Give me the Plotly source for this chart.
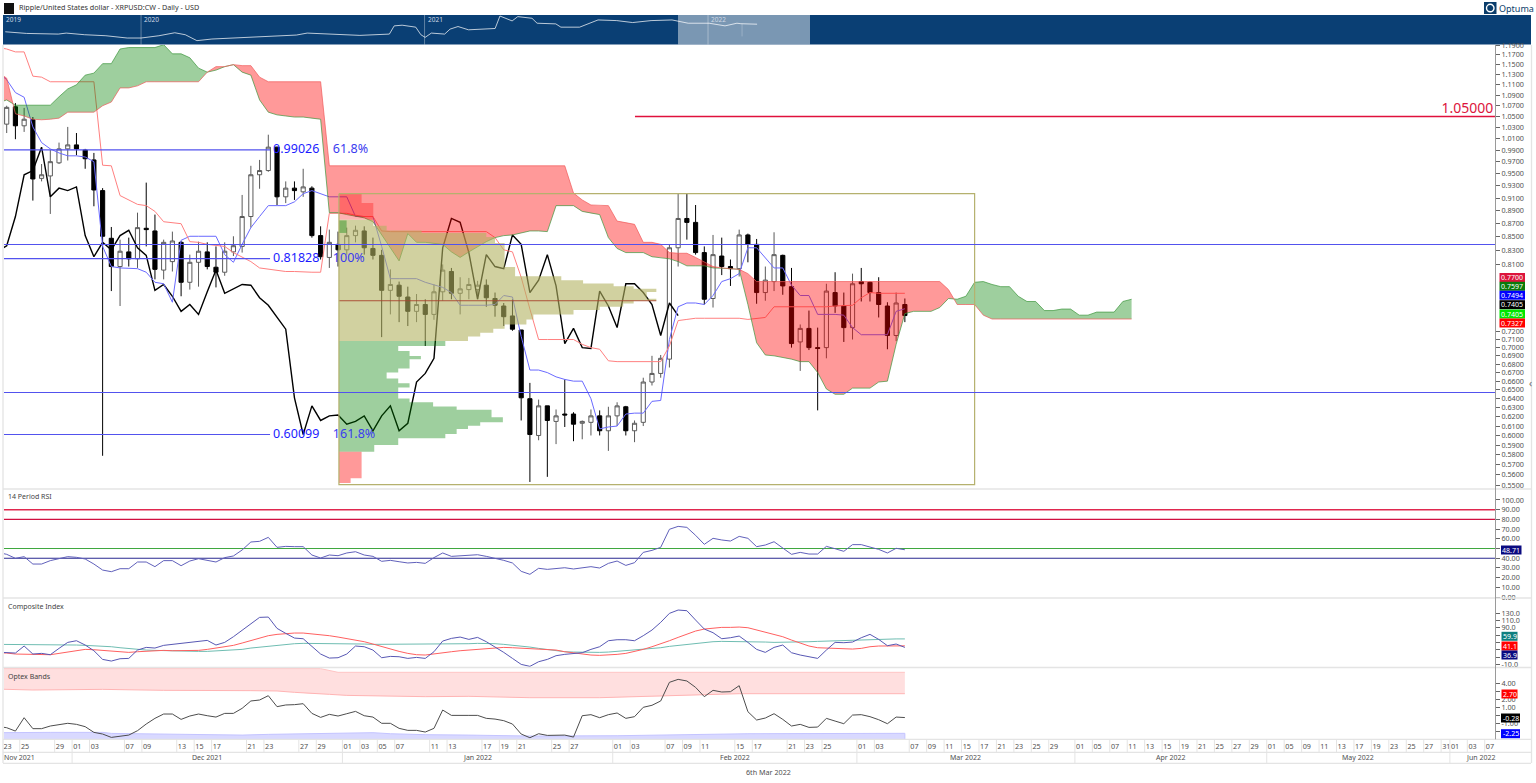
import math
import plotly.graph_objects as go

W, H = 1536, 783

# ---------- price data (daily bars, 23 Nov 2021 .. 6 Mar 2022) ----------
opens = [1.036,1.068,1.033,1.044,.942,.946,.968,.992,.999,.990,
         .973,.922,.848,.807,.828,.818,.863,.859,.802,.814,
         .842,.785,.813,.828,.806,.799,.828,.836,.881,.948,
         .955,.995,.912,.926,.920,.926,.852,.820,.839,.831,
         .852,.859,.833,.823,.774,.781,.765,.746,.755,.742,
         .772,.800,.770,.775,.775,.781,.763,.753,.740,.722,
         .640,.600,.632,.615,.623,.623,.613,.614,.621,.605,
         .621,.631,.605,.614,.659,.669,.686,.834,.878,.872,
         .827,.763,.822,.807,.804,.853,.839,.771,.786,.823,
         .779,.707,.724,.700,.700,.771,.753,.725,.786,.785,
         .771,.753,.715,.755]
highs = [1.070,1.075,1.066,1.049,.966,.990,1.003,1.031,1.020,.992,
         .985,.926,.865,.846,.849,.887,.935,.884,.846,.858,
         .844,.824,.843,.842,.836,.842,.851,.915,.963,.973,
         1.017,.996,.937,.937,.958,.929,.866,.861,.858,.864,
         .867,.866,.849,.831,.803,.786,.779,.769,.762,.782,
         .810,.805,.792,.791,.787,.789,.771,.757,.762,.722,
         .658,.639,.632,.628,.662,.625,.616,.628,.627,.631,
         .636,.632,.616,.664,.690,.691,.839,.918,.918,.899,
         .836,.853,.849,.817,.861,.855,.847,.807,.857,.824,
         .805,.729,.747,.725,.783,.799,.771,.797,.805,.786,
         .792,.758,.771,.763]
lows = [1.020,1.009,1.022,.906,.937,.885,.966,.972,.981,.958,
        .897,.579,.773,.753,.807,.805,.836,.789,.789,.800,
        .766,.775,.779,.803,.778,.794,.822,.827,.864,.925,
        .953,.899,.902,.907,.912,.849,.817,.805,.807,.824,
        .842,.824,.817,.713,.742,.732,.727,.732,.702,.735,
        .760,.762,.742,.762,.762,.752,.739,.727,.721,.616,
        .553,.595,.558,.591,.609,.594,.596,.600,.600,.584,
        .610,.600,.593,.610,.655,.664,.676,.807,.846,.824,
        .755,.751,.795,.780,.793,.813,.756,.760,.773,.768,
        .700,.672,.697,.627,.687,.744,.707,.710,.759,.759,
        .738,.698,.708,.732]
closes = [1.067,1.033,1.045,.941,.948,.970,.992,.999,.992,.975,
          .923,.851,.807,.829,.818,.864,.861,.803,.842,.844,
          .785,.813,.829,.807,.799,.829,.837,.881,.948,.955,
          .995,.912,.926,.922,.928,.852,.821,.842,.831,.852,
          .860,.834,.823,.774,.782,.766,.746,.755,.742,.772,
          .802,.770,.776,.782,.781,.764,.754,.739,.723,.641,
          .601,.632,.616,.621,.622,.612,.615,.621,.605,.621,
          .632,.605,.613,.659,.669,.687,.834,.878,.872,.827,
          .762,.824,.807,.804,.853,.839,.771,.788,.824,.780,
          .705,.724,.700,.699,.773,.753,.725,.783,.783,.771,
          .755,.715,.757,.7405]

# each indicator starts one bar left of the first candle (just off the chart's edge)
tenkan = [1.135,
          1.120,1.095,1.086,1.031,1.003,.992,.985,.980,.980,.978,
          .970,.836,.807,.805,.805,.804,.799,.785,.783,.758,
          .845,.851,.851,.851,.851,.824,.813,.839,.864,.881,
          .898,.898,.898,.904,.917,.922,.917,.912,.912,.912,
          .881,.881,.881,.836,.790,.790,.790,.790,.785,.781,
          .778,.771,.754,.754,.754,.754,.755,.767,.765,.714,
          .673,.673,.670,.665,.662,.660,.660,.640,.607,.609,
          .610,.623,.624,.624,.637,.638,.710,.752,.757,.757,
          .755,.767,.786,.790,.797,.834,.834,.820,.805,.805,
          .781,.767,.767,.742,.742,.742,.741,.725,.716,.716,
          .716,.716,.746,.7494]
kijun = [1.185,
         1.182,1.176,1.176,1.127,1.125,1.116,1.116,1.116,1.116,1.116,
         1.116,.964,.963,.914,.907,.900,.898,.889,.873,.872,
         .870,.843,.842,.839,.837,.836,.827,.821,.814,.805,
         .803,.801,.800,.800,.799,.799,.799,.886,.886,.886,
         .883,.881,.881,.859,.858,.858,.858,.858,.858,.858,
         .858,.858,.858,.858,.858,.858,.849,.831,.828,.792,
         .749,.710,.710,.710,.710,.710,.704,.700,.698,.684,
         .683,.683,.683,.683,.683,.683,.702,.734,.7355,.737,
         .737,.737,.737,.737,.737,.7355,.737,.738,.752,.752,
         .752,.752,.752,.752,.752,.753,.753,.754,.764,.771,
         .770,.770,.770,.770]
span_a = [1.075,
          1.081,1.071,1.071,1.071,1.071,1.071,1.087,1.102,1.110,1.129,
          1.133,1.152,1.152,1.182,1.185,1.185,1.185,1.185,1.191,1.172,
          1.172,1.164,1.143,1.135,1.139,1.146,1.150,1.135,1.129,1.081,
          1.058,1.053,1.051,1.049,1.049,1.047,1.045,.887,.887,.884,
          .881,.879,.873,.853,.834,.815,.855,.842,.842,.840,
          .839,.828,.820,.828,.836,.843,.849,.852,.853,.856,
          .859,.859,.858,.898,.898,.898,.889,.886,.884,.849,
          .833,.827,.827,.827,.821,.820,.818,.814,.808,.808,
          .808,.805,.805,.804,.803,.755,.706,.691,.690,.688,
          .686,.683,.683,.670,.651,.645,.645,.652,.652,.652,
          .659,.660,.704,.743,.746,.746,.746,.751,.763,.762,
          .766,.785,.786,.782,.779,.779,.766,.759,.759,.747,
          .747,.749,.749,.741,.741,.745,.745,.745,.759,.762]
span_b = [1.135,
          1.123,1.055,1.051,1.045,1.044,1.045,1.047,1.058,1.058,1.058,
          1.058,1.070,1.077,1.104,1.104,1.108,1.116,1.116,1.116,1.116,
          1.116,1.116,1.116,1.135,1.146,1.146,1.150,1.148,1.148,1.125,
          1.116,1.116,1.116,1.116,1.116,1.116,1.116,.963,.963,.963,
          .963,.963,.963,.963,.963,.963,.963,.963,.963,.963,
          .963,.963,.963,.963,.963,.963,.963,.963,.963,.963,
          .963,.963,.963,.963,.963,.918,.907,.899,.898,.898,
          .874,.872,.869,.842,.842,.839,.827,.826,.826,.820,
          .813,.807,.805,.804,.803,.797,.786,.786,.786,.786,
          .786,.786,.786,.786,.786,.786,.786,.786,.786,.786,
          .786,.786,.786,.786,.786,.786,.786,.786,.775,.755,
          .755,.755,.741,.736,.736,.736,.736,.736,.736,.736,
          .736,.736,.736,.736,.736,.736,.736,.736,.736,.736]

# ---------- volume profile (price edges, row length in bars) ----------
vp_start_bar = 38.1
vp_end_bar = 111.0
vp_box_high, vp_box_low = 0.9170, 0.5505
vp_poc = 0.7600
vp_red_top_edges = [.9180,.9020,.8761]
vp_red_top_len = [2.6,3.94]
vp_tan_edges = [.8761,.8670,.8598,.8560,.8500,.8412,.8303,.8065,.7933,.7879,.7834,.7797,.7761,
                .7716,.7626,.7600,.7564,.7520,.7476,.7420,.7355,.7291,.7237,.7186,.7137,.7082]
vp_tan_len = [3.94,5.47,9.48,16.9,17.9,19.0,19.0,20.2,25.5,28.0,31.5,33.8,36.4,
              35.3,36.4,33.8,32.6,29.9,26.9,22.3,21.5,19.0,17.7,16.2,14.8]
vp_green_edges = [.7082,.7020,.6960,.6899,.6859,.6748,.6701,.6631,.6577,.6527,.6403,
                  .6359,.6314,.6276,.6194,.6140,.6103,.6068,.6016,.5970,.5901,.5832]
vp_green_len = [12.2,6.8,8.1,9.4,8.1,6.8,5.47,6.8,8.1,6.8,8.1,10.8,13.5,17.5,18.8,16.2,14.8,13.5,12.2,6.8,4.05]
vp_red_low_edges = [.5832,.5567,.5519]
vp_red_low_len = [2.6,1.34]
vp_green_top_edges = [.8750,.8560]
vp_green_top_len = [.88]

# ---------- levels ----------
fib_prices = [0.99026,0.81828,0.60099]
fib_values = ["0.99026","0.81828","0.60099"]
fib_pcts = ["61.8%","100%","161.8%"]
fib_end_bar = 30.2
fib_val_bar, fib_pct_bar = 30.55, 37.4
long_levels = [0.8387,0.6470]
target_level = 1.05
target_start_bar = 72.05

# ---------- indicators ----------
rsi = [46.0,
       44.0,39.9,41.6,34.0,34.0,37.5,39.9,41.6,40.9,39.2,
       34.0,27.8,26.1,29.2,29.2,36.1,36.1,31.3,37.5,37.5,
       32.3,37.1,39.5,37.5,36.1,40.6,42.3,48.5,56.7,57.4,
       61.5,51.2,52.2,51.9,51.9,43.3,40.2,43.3,42.6,45.4,
       46.7,43.3,41.9,36.8,37.8,36.4,35.1,35.7,34.7,40.6,
       45.4,41.9,42.6,43.6,43.6,41.9,39.9,37.8,35.1,26.5,
       23.4,29.6,28.5,29.6,30.2,28.9,29.9,31.3,29.9,34.7,
       37.1,32.6,35.4,46.0,48.1,51.2,69.8,72.8,71.8,63.6,
       54.3,60.5,58.8,57.7,62.5,60.5,51.9,53.6,57.0,50.9,
       44.0,46.0,44.3,44.3,52.2,49.8,47.1,54.0,54.0,51.5,
       49.1,45.4,50.2,48.71]
rsi_levels = [90,80,50,40]
ci = [24.0,
      23.4,21.6,40.6,18.9,20.7,17.1,34.2,50.5,55.0,43.3,
      27.9,4.4,-.1,6.2,7.1,29.7,36.9,35.1,42.4,45.1,
      46.9,51.4,52.3,55.9,43.3,50.5,65.8,83.9,102.0,118.2,
      119.1,88.4,74.9,62.2,60.4,38.7,18.9,8.0,8.9,18.9,
      40.6,38.7,29.7,8.9,12.5,11.6,7.1,9.8,7.1,25.2,
      54.1,61.3,64.9,58.6,64.0,52.3,38.7,23.4,7.1,-9.1,
      -14.5,-1.9,4.4,14.4,18.0,19.8,22.5,31.5,38.7,55.0,
      57.7,57.7,55.0,68.6,83.9,104.7,129.1,138.1,136.3,111.0,
      86.6,76.7,60.4,63.1,67.6,50.5,31.5,23.4,36.9,43.3,
      22.5,16.2,11.6,7.1,29.7,50.5,49.6,51.4,63.1,72.2,
      58.6,41.5,46.0,36.9]
ci_fast = [22.0,
           21.6,18.9,18.9,17.1,17.1,17.1,20.7,24.3,28.8,31.5,
           30.6,28.8,27.0,25.2,23.4,25.2,27.0,27.9,28.8,27.9,
           27.9,27.9,28.8,31.5,35.1,37.8,42.4,48.7,55.0,61.3,
           68.6,72.2,74.9,75.8,75.8,74.0,72.2,68.6,64.9,61.3,
           56.8,52.3,46.0,38.7,31.5,26.1,20.7,17.1,16.2,19.8,
           22.5,25.2,27.9,29.7,31.5,33.3,36.0,36.9,36.0,35.1,
           34.2,33.3,31.5,29.7,25.2,21.6,18.9,16.2,15.3,16.2,
           18.0,20.7,25.2,31.5,38.7,46.0,55.0,64.0,73.0,81.2,
           86.6,89.3,91.1,91.1,92.0,90.2,83.9,79.4,73.0,65.8,
           56.8,47.8,40.6,36.0,35.1,35.1,33.3,32.4,34.2,38.7,
           40.6,40.6,40.6,41.1]
ci_slow = [45.1,
           45.1,44.5,44.5,43.9,43.3,43.3,43.3,43.3,43.3,42.4,
           41.5,39.7,38.7,36.0,33.3,31.5,29.7,28.8,27.9,27.0,
           27.0,26.1,26.1,26.1,27.0,27.9,28.8,31.5,35.1,37.8,
           40.6,43.3,46.0,46.9,47.8,47.8,47.8,47.8,47.8,47.8,
           46.9,46.0,45.1,45.1,45.1,45.1,45.1,45.1,45.1,45.1,
           45.1,46.0,46.9,46.9,47.8,47.8,46.9,45.1,43.3,40.6,
           37.8,34.2,30.6,27.0,25.2,24.3,23.4,23.4,23.4,24.3,
           26.1,27.9,29.7,30.6,32.4,36.0,39.7,42.4,45.1,47.8,
           50.5,52.3,53.2,53.2,53.2,53.2,52.3,51.4,50.5,50.5,
           50.5,51.4,52.3,53.2,54.1,55.0,55.9,56.8,57.7,58.6,
           59.5,59.9,59.9,59.9]
optex = [-1.40,
         -1.55,-1.97,-.30,-1.67,-1.67,-1.34,-1.13,-1.00,-1.13,-1.42,
         -2.13,-2.34,-2.76,-2.59,-2.47,-1.92,-1.09,-.38,.16,.16,
         -.51,-.09,.16,-.05,-.22,.24,.24,.87,1.79,1.91,
         2.45,1.08,1.29,1.33,1.45,.24,-.26,.12,-.09,.20,
         .49,-.05,-.22,-1.00,-1.00,-1.63,-1.88,-1.88,-2.09,-1.63,
         .66,-.01,.03,-.01,-.01,-.38,-.47,-.67,-1.09,-2.34,
         -2.80,-2.30,-2.51,-2.51,-2.47,-2.72,-.05,.08,-.30,.08,
         .29,-.38,-.17,1.00,1.25,1.79,4.12,4.49,4.29,3.49,
         2.33,3.12,2.91,2.95,3.70,.45,-.59,-.34,.20,-.51,
         -1.34,-1.13,-1.51,-1.47,-.38,-.72,-1.05,.03,.08,-.17,
         -.55,-1.05,-.22,-.28]
optex_top_bars = [-1,36,38,103]
optex_top_vals = [5.83,5.83,5.37,5.37]
optex_mid_bars = [-1,3,11,18,28,31,33,35,37,39,42,45,48,53,60,68,76,84,103]
optex_mid_vals = [3.27,3.16,3.24,3.12,3.08,3.04,2.87,2.70,2.62,2.49,2.41,2.37,2.33,2.37,2.20,2.20,2.41,2.70,2.70]
optex_low_bars = [-1,5,11,12,17,22,27,30,35,40,42,44,48,53,60,70,76,85,103]
optex_low_vals = [-2.17,-2.13,-2.13,-2.26,-2.34,-2.38,-2.47,-2.38,-2.30,-2.22,-2.17,-2.30,-2.42,-2.47,-2.59,-2.55,-2.47,-2.30,-2.25]
optex_floor = -2.96

# ---------- navigator ----------
nav_years = [2019.521,2019.596,2019.708,2019.736,2019.801,2019.876,2019.951,2020.000,2020.063,2020.119,
             2020.156,2020.197,2020.250,2020.345,2020.436,2020.548,2020.586,2020.670,2020.772,2020.876,
             2020.893,2020.921,2020.969,2020.987,2021.002,2021.024,2021.071,2021.090,2021.118,2021.155,
             2021.249,2021.266,2021.309,2021.329,2021.379,2021.397,2021.463,2021.481,2021.547,2021.612,
             2021.678,2021.734,2021.799,2021.873,2021.930,2022.004,2022.060,2022.102,2022.116,2022.173]
nav_prices = [.328,.276,.258,.286,.241,.217,.171,.171,.217,.296,
              .241,.130,.154,.177,.190,.233,.286,.249,.225,.258,
              .608,.651,.530,.241,.183,.286,.258,.432,.567,.403,
              .462,1.70,1.017,1.59,1.339,.80,.747,.53,.53,1.127,
              1.052,.857,1.052,1.127,.80,.80,.608,.80,.76,.723]
nav_wick_year = 2022.120
nav_wick_prices = [.76,.203]
nav_year_lines = [2020,2021,2022]
nav_year_labels = ["2019","2020","2021","2022"]

# ---------- ticks ----------
price_ticks = [1.19,1.17,1.15,1.13,1.11,1.09,1.07,1.05,1.03,1.01,.99,.97,.95,.93,.91,.89,.87,.85,.83,.81,
               .72,.71,.70,.69,.68,.67,.66,.65,.64,.63,.62,.61,.60,.59,.58,.57,.56,.55]
rsi_ticks = [100,90,80,70,60,50,40,30,20,10,0]
rsi_ticks_unlabelled = [50]
ci_ticks = [130,110,90,70,50,30,10,-10]
ci_ticks_unlabelled = [70,50,30,10]
optex_ticks = [4,3,2,1,0,-1,-2]
optex_ticks_unlabelled = [3,0,-2]
x_tick_bars = [0,2,6,8,10,14,16,20,22,24,28,30,34,36,39,41,43,45,49,51,55,57,59,63,65,70,72,76,78,80,84,86,
               90,92,94,98,100,104,106,108,110,112,114,116,118,120,123,125,127,129,131,133,135,137,139,141,143,
               145,147,149,151,153,155,157,159,161,163,165,166,168,170]
x_tick_days = ["23","25","29","01","03","07","09","13","15","17","21","23","27","29","01","03","05","07","11","13",
               "17","19","21","25","27","01","03","07","09","11","15","17","21","23","25","01","03",
               "07","09","11","15","17","21","23","25","29","01","05","07","11","13","15","19","21","25","27","29",
               "01","05","09","11","13","17","19","23","25","27","31","01","03","07"]
month_start_bars = [8,39,70,98,123,145,166]
month_names = ["Nov 2021","Dec 2021","Jan 2022","Feb 2022","Mar 2022","Apr 2022","May 2022","Jun 2022"]

title_text = "Ripple/United States dollar - XRPUSD:CW - Daily - USD"
footer_text = "6th Mar 2022"
main_badges = [("0.7700","#dc143c"),("0.7597","#0b7a0b"),("0.7494","#0000ff"),
               ("0.7405","#000000"),("0.7405","#00e600"),("0.7327","#ff0000")]

# ---------- layout helpers ----------
FONT = "Noto Sans"
TXT = "#505050"
PX_L, PX_R = 4.0, 1495.0
BAR0, BARW = 6.7, 8.72
def fx(x): return x / W
def fy(y): return 1 - y / H
def barx(px): return (px - BAR0) / BARW

PX_PER_LN = 570.0
def p_range(ytop, ybot):
    hi = 1.05 * math.exp((116.5 - ytop) / PX_PER_LN)
    lo = 1.05 * math.exp((116.5 - ybot) / PX_PER_LN)
    return [math.log10(lo), math.log10(hi)]

bars = list(range(len(closes)))
lead_bars = [-1] + bars
cloud_bars = list(range(-1, len(span_a) - 1))
chikou_y = closes[25:]
chikou_x = list(range(-1, len(chikou_y) - 1))

fig = go.Figure()
skip = dict(hoverinfo="skip", showlegend=False)

fig.add_trace(go.Candlestick(x=bars, open=opens, high=highs, low=lows, close=closes,
    increasing=dict(line=dict(color="#5a5a5a", width=1), fillcolor="#ffffff"),
    decreasing=dict(line=dict(color="#000000", width=1), fillcolor="#000000"),
    whiskerwidth=0, xaxis="x", yaxis="y", hoverinfo="skip", showlegend=False))

fig.add_trace(go.Scatter(x=chikou_x, y=chikou_y, mode="lines", line=dict(color="#000000", width=1.4), **skip))
fig.add_trace(go.Scatter(x=lead_bars, y=tenkan, mode="lines", line=dict(color="#6a6aff", width=1), **skip))
fig.add_trace(go.Scatter(x=lead_bars, y=kijun, mode="lines", line=dict(color="#ff8080", width=1), **skip))

def cloud_polys():
    polys = {"g": ([], []), "r": ([], [])}
    run, kind = [], None
    def flush(run, kind):
        if len(run) < 2: return
        xs = [r[0] for r in run] + [r[0] for r in reversed(run)]
        ys = [r[1] for r in run] + [r[2] for r in reversed(run)]
        polys[kind][0].extend(xs + [None]); polys[kind][1].extend(ys + [None])
    for idx, bar in enumerate(cloud_bars):
        a, b = span_a[idx], span_b[idx]
        k = "g" if a >= b else "r"
        if kind is not None and k != kind:
            pa, pb = span_a[idx - 1], span_b[idx - 1]
            d0 = math.log(pa) - math.log(pb); d1 = math.log(a) - math.log(b)
            t = d0 / (d0 - d1) if d0 != d1 else 0
            yc = math.exp(math.log(pa) + t * (math.log(a) - math.log(pa)))
            run.append((bar - 1 + t, yc, yc)); flush(run, kind)
            run = [(bar - 1 + t, yc, yc)]
        run.append((bar, a, b)); kind = k
    flush(run, kind)
    return polys
polys = cloud_polys()
fig.add_trace(go.Scatter(x=polys["r"][0], y=polys["r"][1], mode="none", fill="toself", fillcolor="rgba(255,0,0,0.40)", **skip))
fig.add_trace(go.Scatter(x=polys["g"][0], y=polys["g"][1], mode="none", fill="toself", fillcolor="rgba(0,128,0,0.38)", **skip))
fig.add_trace(go.Scatter(x=cloud_bars, y=span_a, mode="lines", line=dict(color="rgba(60,150,60,0.7)", width=1), **skip))
fig.add_trace(go.Scatter(x=cloud_bars, y=span_b, mode="lines", line=dict(color="rgba(240,90,90,0.7)", width=1), **skip))

def stair(edges, lens, color):
    xs, ys = [vp_start_bar], [edges[0]]
    for i, l in enumerate(lens):
        xs += [vp_start_bar + l, vp_start_bar + l]
        ys += [edges[i], edges[i + 1]]
    xs.append(vp_start_bar); ys.append(edges[-1])
    fig.add_trace(go.Scatter(x=xs, y=ys, mode="none", fill="toself", fillcolor=color, **skip))
stair(vp_red_top_edges, vp_red_top_len, "rgba(255,0,0,0.30)")
stair(vp_tan_edges, vp_tan_len, "rgba(178,178,97,0.60)")
stair(vp_green_top_edges, vp_green_top_len, "rgba(0,128,0,0.38)")
stair(vp_green_edges, vp_green_len, "rgba(0,128,0,0.38)")
stair(vp_red_low_edges, vp_red_low_len, "rgba(255,0,0,0.40)")
fig.add_trace(go.Scatter(x=[vp_start_bar, vp_start_bar + max(vp_tan_len)], y=[vp_poc, vp_poc], mode="lines",
                         line=dict(color="#a8442e", width=0.9), **skip))
fig.add_trace(go.Scatter(
    x=[vp_start_bar, vp_end_bar, vp_end_bar, vp_start_bar, vp_start_bar],
    y=[vp_box_high, vp_box_high, vp_box_low, vp_box_low, vp_box_high],
    mode="lines", line=dict(color="#b5b16e", width=1.2), **skip))

xR = barx(PX_R)
xL = barx(PX_L)
for p in fib_prices:
    fig.add_trace(go.Scatter(x=[xL, fib_end_bar], y=[p, p], mode="lines", line=dict(color="#5252ee", width=1.1), **skip))
for p in long_levels:
    fig.add_trace(go.Scatter(x=[xL, xR], y=[p, p], mode="lines", line=dict(color="#5252ee", width=1.1), **skip))
fig.add_trace(go.Scatter(x=[target_start_bar, xR], y=[target_level, target_level], mode="lines",
                         line=dict(color="#e0103c", width=1.3), **skip))
fig.add_trace(go.Scatter(x=[fib_val_bar] * 3, y=fib_prices, text=fib_values, mode="text", textposition="middle right",
                         textfont=dict(family=FONT, size=12.5, color="#1c1cff"), **skip))
fig.add_trace(go.Scatter(x=[fib_pct_bar] * 3, y=fib_prices, text=fib_pcts, mode="text", textposition="middle right",
                         textfont=dict(family=FONT, size=12.5, color="#3b3bf0"), **skip))
fig.add_trace(go.Scatter(x=[xR - 0.2], y=[target_level], text=["1.05000"], mode="text", textposition="top left",
                         textfont=dict(family=FONT, size=14, color="#dc143c"), **skip))

# RSI
for lv, c, w in zip(rsi_levels, ["#e0284f", "#d01040", "#3fa83f", "#2a2a90"], [1.6, 1.2, 1.1, 1.1]):
    fig.add_trace(go.Scatter(x=[xL, xR], y=[lv, lv], mode="lines", line=dict(color=c, width=w), xaxis="x", yaxis="y2", **skip))
fig.add_trace(go.Scatter(x=lead_bars, y=rsi, mode="lines", line=dict(color="#6060bb", width=1), xaxis="x", yaxis="y2", **skip))

# Composite
fig.add_trace(go.Scatter(x=lead_bars, y=ci_slow, mode="lines", line=dict(color="#6fbdb2", width=1), xaxis="x", yaxis="y3", **skip))
fig.add_trace(go.Scatter(x=lead_bars, y=ci_fast, mode="lines", line=dict(color="#ff6060", width=1), xaxis="x", yaxis="y3", **skip))
fig.add_trace(go.Scatter(x=lead_bars, y=ci, mode="lines", line=dict(color="#5858b4", width=1), xaxis="x", yaxis="y3", **skip))

# Optex
fig.add_trace(go.Scatter(x=optex_top_bars + optex_mid_bars[::-1], y=optex_top_vals + optex_mid_vals[::-1],
                         mode="none", fill="toself", fillcolor="#ffdfdf", xaxis="x", yaxis="y4", **skip))
fig.add_trace(go.Scatter(x=optex_mid_bars, y=optex_mid_vals, mode="lines", line=dict(color="#ffb4b4", width=1), xaxis="x", yaxis="y4", **skip))
fig.add_trace(go.Scatter(x=optex_top_bars, y=optex_top_vals, mode="lines", line=dict(color="#ffc4c4", width=1), xaxis="x", yaxis="y4", **skip))
fig.add_trace(go.Scatter(x=[optex_low_bars[0]] + optex_low_bars + [optex_low_bars[-1]],
                         y=[optex_floor] + optex_low_vals + [optex_floor],
                         mode="lines", fill="toself", fillcolor="#d9d9ff", line=dict(color="#c4c4ff", width=1),
                         xaxis="x", yaxis="y4", **skip))
fig.add_trace(go.Scatter(x=lead_bars, y=optex, mode="lines", line=dict(color="#4d4d4d", width=1), xaxis="x", yaxis="y4", **skip))

# Navigator
fig.add_trace(go.Scatter(x=nav_years, y=nav_prices, mode="lines", line=dict(color="rgba(255,255,255,0.72)", width=1),
                         xaxis="x2", yaxis="y5", **skip))
fig.add_trace(go.Scatter(x=[nav_wick_year] * 2, y=nav_wick_prices, mode="lines", line=dict(color="rgba(255,255,255,0.3)", width=0.8),
                         xaxis="x2", yaxis="y5", **skip))

# ---------- shapes ----------
GRID = "#e4e4e4"
shapes = []
def rect(x0, y0, x1, y1, fill, layer="below", line=None):
    shapes.append(dict(type="rect", xref="paper", yref="paper", x0=fx(x0), x1=fx(x1), y0=fy(y0), y1=fy(y1),
                       fillcolor=fill, line=dict(width=0) if line is None else line, layer=layer))
def hline(y, x0=3, x1=1531, color=GRID, width=1.3):
    shapes.append(dict(type="line", xref="paper", yref="paper", x0=fx(x0), x1=fx(x1), y0=fy(y), y1=fy(y),
                       line=dict(color=color, width=width), layer="above"))
def vline(x, y0, y1, color=GRID, width=1):
    shapes.append(dict(type="line", xref="paper", yref="paper", x0=fx(x), x1=fx(x), y0=fy(y0), y1=fy(y1),
                       line=dict(color=color, width=width), layer="above"))

rect(3, 15, 1531, 44.6, "#0a3f74")
rect(678, 15, 810, 44.6, "rgba(255,255,255,0.46)", layer="above")
for yr in nav_year_lines:
    shapes.append(dict(type="line", xref="x2", yref="paper", x0=yr, x1=yr, y0=fy(15), y1=fy(44.6),
                       line=dict(color="rgba(255,255,255,0.35)", width=1), layer="above"))
rect(4, 3, 14, 14, "#111111")
rect(1484, 2, 1496.5, 14, "#0b3d6b")
shapes.append(dict(type="circle", xref="paper", yref="paper", x0=fx(1486.5), x1=fx(1494), y0=fy(11.8), y1=fy(4.3),
                   line=dict(color="#ffffff", width=1.4), fillcolor="#0b3d6b"))
for y in (489, 598, 667.5, 739.3, 752.3, 763.3):
    hline(y)
vline(3, 45, 763, width=1.3)
vline(1531.5, 45, 763, width=1.3)
vline(1495.5, 45, 739.3, color="#9a9a9a", width=1)
for b in x_tick_bars:
    shapes.append(dict(type="line", xref="x", yref="paper", x0=b - 0.5, x1=b - 0.5, y0=fy(739.3), y1=fy(752.3),
                       line=dict(color=GRID, width=1), layer="above"))
for b in month_start_bars:
    shapes.append(dict(type="line", xref="x", yref="paper", x0=b - 0.5, x1=b - 0.5, y0=fy(752.3), y1=fy(763.3),
                       line=dict(color=GRID, width=1), layer="above"))

# ---------- annotations ----------
anns = []
def label(x, y, text, size=7, color=TXT, anchor="left", **kw):
    anns.append(dict(xref="paper", yref="paper", x=fx(x), y=fy(y), text=text, showarrow=False, xanchor=anchor,
                     yanchor="middle", font=dict(family=FONT, size=size, color=color), borderpad=0, **kw))
label(18, 6.5, title_text, size=7.2, color="#333333")
label(768, 771.5, footer_text, size=7.2, anchor="center")
label(7, 496.5, "14 Period RSI", size=7, color="#444444")
label(7, 606.5, "Composite Index", size=7, color="#444444")
label(7, 676, "Optex Bands", size=7, color="#444444")
label(1497.5, 8, "Optuma", size=9, color="#0b3d6b")
label(1530, 383, "‹", size=10, color="#666666", anchor="center")
for yr_px, t in zip((5, 143, 427, 710), nav_year_labels):
    label(yr_px, 19, t, size=6.5, color="#cfd9e6")

def badge(x0, x1, yc, text, color):
    rect(x0, yc - 4.5, x1, yc + 4.5, color, layer="above")
    label((x0 + x1) / 2, yc, text, size=7, color="#ffffff", anchor="center")
for (t, c), yc in zip(main_badges, (277.5, 286.3, 295.2, 304.7, 314, 323)):
    badge(1499.5, 1525, yc, t, c)
badge(1501, 1521.5, 550, "48.71", "#0a0a80")
badge(1501.5, 1517.5, 636.3, "59.9", "#0e7f7f")
badge(1501.5, 1517.5, 646, "41.1", "#ff0000")
badge(1501.5, 1517.5, 655, "36.9", "#0a0a80")
badge(1501.5, 1517.5, 694, "2.70", "#ff0000")
badge(1501, 1520, 718, "-0.28", "#000000")
badge(1501, 1520, 733.7, "-2.25", "#0000ff")

# month labels
starts = [xL] + month_start_bars + [xR]
for i, name in enumerate(month_names):
    if i == 0:
        cx = barx(19)
    elif i == len(month_names) - 1:
        cx = barx(1480)
    else:
        cx = (starts[i] + starts[i + 1]) / 2 - 0.5
    anns.append(dict(xref="x", yref="paper", x=cx, y=fy(757.8), text=name, showarrow=False, xanchor="center",
                     yanchor="middle", font=dict(family=FONT, size=7, color=TXT)))

# ---------- axes ----------
def yax(dom_top, dom_bot, rng, vals, text, **kw):
    return dict(domain=[fy(dom_bot), fy(dom_top)], range=rng, anchor="x", side="right", tickmode="array", tickvals=vals,
                ticktext=text, ticks="outside", ticklen=4, tickwidth=1, tickcolor="#666666",
                tickfont=dict(family=FONT, size=7.2, color=TXT), showgrid=False, zeroline=False, showline=False,
                automargin=False, **kw)

def tick_text(vals, fmt, hidden=()):
    return ["" if v in hidden else format(v, fmt) for v in vals]

fig.update_layout(
    width=W, height=H, autosize=False, template="none",
    margin=dict(l=0, r=0, t=0, b=0, pad=0), paper_bgcolor="#ffffff", plot_bgcolor="rgba(0,0,0,0)",
    showlegend=False, hovermode=False, shapes=shapes, annotations=anns, boxgap=0.32,
    xaxis=dict(domain=[fx(PX_L), fx(PX_R)], range=[xL, xR], anchor="y4", tickmode="array",
               tickvals=[b + 0.1 for b in x_tick_bars], ticktext=x_tick_days, ticks="", showgrid=False, zeroline=False,
               showline=False, rangeslider=dict(visible=False), automargin=False, ticklabelstandoff=2,
               tickfont=dict(family=FONT, size=7.2, color=TXT), tickangle=0),
    yaxis=yax(45, 489, p_range(45, 489), price_ticks, tick_text(price_ticks, ".4f"), type="log"),
    yaxis2=yax(490, 598, [-1.0, 110.3], rsi_ticks, tick_text(rsi_ticks, ".2f", rsi_ticks_unlabelled)),
    yaxis3=yax(599, 667, [-16.2, 168.0], ci_ticks, tick_text(ci_ticks, ".1f", ci_ticks_unlabelled)),
    yaxis4=yax(668, 739, [-2.96, 5.91], optex_ticks, tick_text(optex_ticks, ".2f", optex_ticks_unlabelled)),
    xaxis2=dict(domain=[fx(3), fx(1531)], range=[2019.513, 2024.903], anchor="y5", visible=False),
    yaxis5=dict(domain=[fy(44.6), fy(15)], range=[math.log10(0.0861), math.log10(1.886)], type="log", anchor="x2", visible=False),
)

fig.write_html("out.html", config=dict(displayModeBar=False),
               post_script="document.body.style.margin='0';document.body.style.overflow='hidden';")
